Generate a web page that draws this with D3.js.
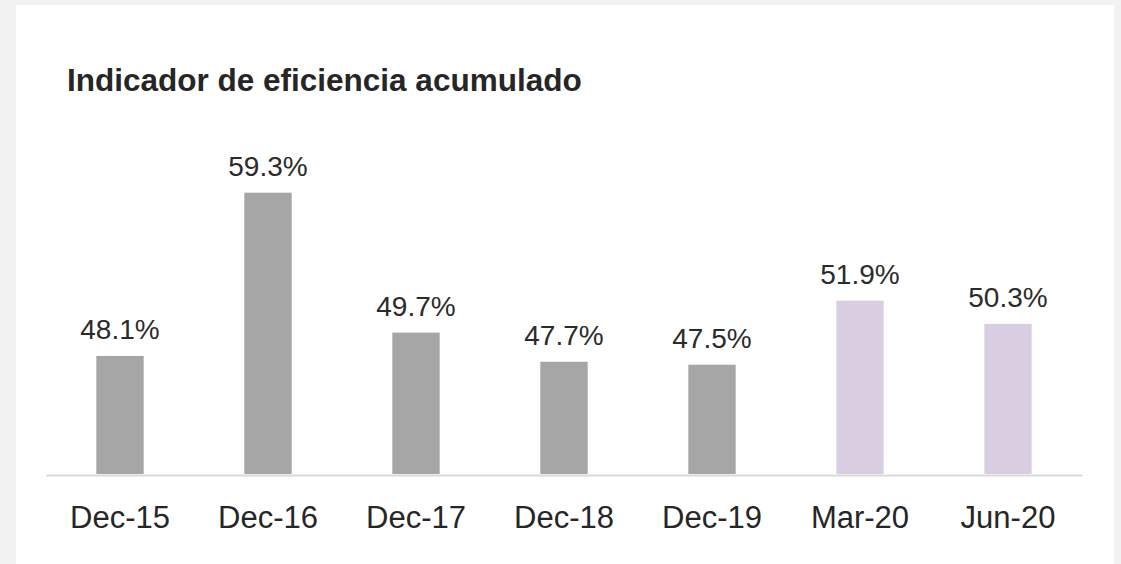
<!DOCTYPE html>
<html>
<head>
<meta charset="utf-8">
<script src="https://d3js.org/d3.v7.min.js"></script>
<style>
  body { margin: 0; background: #f2f2f2; }
  svg { display: block; }
</style>
</head>
<body>
<svg id="chart" width="1121" height="564"></svg>
<script>
  // data
  const periods = ["Dec-15", "Dec-16", "Dec-17", "Dec-18", "Dec-19", "Mar-20", "Jun-20"];
  const efficiency = [48.1, 59.3, 49.7, 47.7, 47.5, 51.9, 50.3];
  const partialYear = ["Mar-20", "Jun-20"];

  const title = "Indicador de eficiencia acumulado";
  const font = "'Liberation Sans', Arial, sans-serif";

  const svg = d3.select("#chart");

  // white panel
  svg.append("rect")
    .attr("x", 16).attr("y", 5)
    .attr("width", 1098).attr("height", 570)
    .attr("fill", "#fff");

  const margin = { left: 46, right: 1082, base: 474 };

  const x = d3.scaleBand()
    .domain(periods)
    .range([margin.left, margin.right])
    .paddingInner(0.68)
    .paddingOuter(0.34);

  // axis does not start at zero in the original
  const y = d3.scaleLinear()
    .domain([40, 59.3])
    .range([margin.base, 192.7]);

  const color = p => partialYear.includes(p) ? "#d9cde2" : "#a6a6a6";

  svg.append("text")
    .attr("x", 67)
    .attr("y", 91)
    .attr("font-family", font)
    .attr("font-size", 31.5)
    .attr("font-weight", "bold")
    .attr("fill", "#262626")
    .text(title);

  const rows = periods.map((p, i) => ({ p: p, v: efficiency[i] }));

  svg.selectAll(".bar")
    .data(rows)
    .enter().append("rect")
    .attr("class", "bar")
    .attr("x", d => x(d.p))
    .attr("width", x.bandwidth())
    .attr("y", d => y(d.v))
    .attr("height", d => y(40) - y(d.v))
    .attr("fill", d => color(d.p));

  svg.selectAll(".val")
    .data(rows)
    .enter().append("text")
    .attr("class", "val")
    .attr("x", d => x(d.p) + x.bandwidth() / 2)
    .attr("y", d => y(d.v) - 17)
    .attr("text-anchor", "middle")
    .attr("font-family", font)
    .attr("font-size", 28)
    .attr("fill", "#2b2b2b")
    .text(d => d.v.toFixed(1) + "%");

  // category axis
  const axis = svg.append("g")
    .attr("transform", `translate(0,${margin.base + 1})`)
    .call(d3.axisBottom(x).tickSize(0).tickPadding(31));
  axis.select(".domain")
    .attr("stroke", "#d9d9d9")
    .attr("stroke-width", 2);
  axis.selectAll("text")
    .attr("font-family", font)
    .attr("font-size", 31)
    .attr("fill", "#262626");
</script>
</body>
</html>
